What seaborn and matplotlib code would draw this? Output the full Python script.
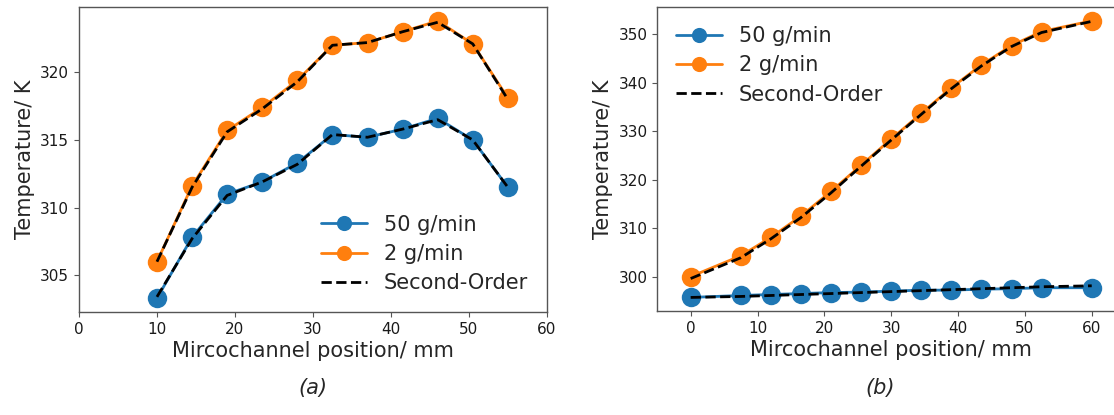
"""Microchannel temperature profiles: experiment vs second-order model."""

import matplotlib

matplotlib.use("Agg")
import matplotlib.pyplot as plt
import seaborn as sns

# (a) positions and temperatures
POS_A = [10, 14.5, 19, 23.5, 28, 32.5, 37, 41.5, 46, 50.5, 55]
HIGH_A = [303.3, 307.8, 311.0, 311.9, 313.3, 315.4, 315.2, 315.8, 316.6, 315.0, 311.5]
LOW_A = [306.0, 311.6, 315.7, 317.4, 319.4, 322.0, 322.2, 323.0, 323.8, 322.1, 318.1]
HIGH_A_MODEL = [303.4, 307.7, 310.9, 311.9, 313.2, 315.4, 315.2, 315.8, 316.5, 315.0, 311.5]
LOW_A_MODEL = [306.0, 311.5, 315.6, 317.3, 319.3, 322.0, 322.2, 323.0, 323.7, 322.1, 318.0]

# (b) positions and temperatures
POS_B = [0, 7.5, 12, 16.5, 21, 25.5, 30, 34.5, 39, 43.5, 48, 52.5, 60]
HIGH_B = [295.7, 296.1, 296.3, 296.5, 296.7, 296.8, 297.0, 297.2, 297.2, 297.4, 297.5, 297.7, 297.7]
LOW_B = [300.0, 304.3, 308.1, 312.5, 317.6, 323.0, 328.4, 333.7, 339.0, 343.7, 347.7, 350.6, 352.8]
HIGH_B_MODEL = [295.7, 295.9, 296.1, 296.3, 296.5, 296.7, 296.9, 297.1, 297.3, 297.5, 297.7, 297.9, 298.1]
LOW_B_MODEL = [299.6, 303.9, 307.8, 312.2, 317.3, 322.8, 328.2, 333.5, 338.8, 343.5, 347.5, 350.4, 352.7]

LABELS = ["50 g/min", "2 g/min", "Second-Order"]
COLORS = ["#1f77b4", "#ff7f0e"]


def _configure_style():
    sns.set_style("white")
    plt.rcParams.update(
        {
            "font.family": ["DejaVu Sans"],
            "axes.edgecolor": "#555555",
            "axes.linewidth": 1.0,
            "xtick.bottom": True,
            "ytick.left": True,
            "xtick.color": "#555555",
            "ytick.color": "#555555",
            "xtick.labelcolor": "#1a1a1a",
            "ytick.labelcolor": "#1a1a1a",
            "xtick.labelsize": 11,
            "ytick.labelsize": 11,
            "axes.labelsize": 15,
            "legend.fontsize": 15,
        }
    )


def _panel(axis, pos, high, low, high_model, low_model, legend_loc):
    for values, color, label in zip([high, low], COLORS, LABELS[:2]):
        sns.lineplot(
            x=pos, y=values, color=color, marker="o", markersize=14,
            markeredgewidth=0, linewidth=2, label=label, ax=axis,
        )
    sns.lineplot(x=pos, y=high_model, color="black", linestyle="--", linewidth=2,
                 label=LABELS[2], ax=axis)
    sns.lineplot(x=pos, y=low_model, color="black", linestyle="--", linewidth=2,
                 legend=False, ax=axis)
    axis.set_xlabel("Mircochannel position/ mm", labelpad=3)
    axis.set_ylabel("Temperature/ K")
    axis.legend(loc=legend_loc, frameon=False, handlelength=2.2,
                markerscale=0.78, labelspacing=0.45)


def main():
    _configure_style()
    figure = plt.figure(figsize=(11.14, 4.15), dpi=100)
    left = figure.add_axes([0.0709, 0.248, 0.420, 0.735])
    right = figure.add_axes([0.590, 0.250, 0.420, 0.733])

    _panel(left, POS_A, HIGH_A, LOW_A, HIGH_A_MODEL, LOW_A_MODEL, "lower right")
    left.set_xlim(0, 60)
    left.set_yticks([305, 310, 315, 320])

    _panel(right, POS_B, HIGH_B, LOW_B, HIGH_B_MODEL, LOW_B_MODEL, "upper left")
    right.set_xlim(-5, 65)
    right.set_xticks([0, 10, 20, 30, 40, 50, 60])
    right.set_yticks([300, 310, 320, 330, 340, 350])

    figure.text(0.281, 0.065, "(a)", ha="center", va="center", fontsize=15, style="italic")
    figure.text(0.790, 0.065, "(b)", ha="center", va="center", fontsize=15, style="italic")
    figure.savefig("out.png", dpi=100)


if __name__ == "__main__":
    main()
